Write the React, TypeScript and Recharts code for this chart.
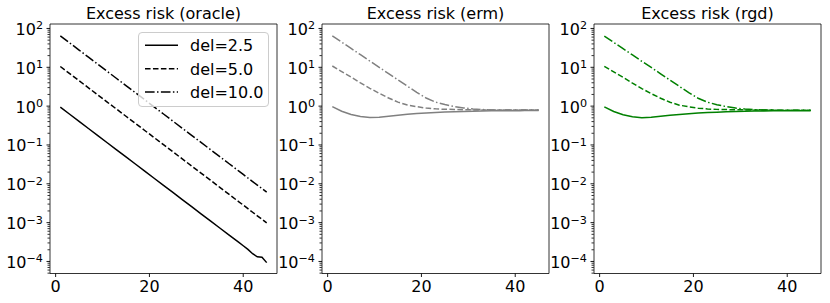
import React from 'react';
import { Legend, Line, LineChart, ReferenceArea, XAxis, YAxis } from 'recharts';

// iteration index
const steps = [1, 3, 5, 7, 9, 11, 13, 15, 17, 19, 21, 23, 25, 27, 29, 31, 33, 35, 37, 39, 40, 41, 42, 43, 44, 45];

// excess risk, oracle
const oracleDel25 = [0.94, 0.617, 0.405, 0.265, 0.174, 0.114, 0.075, 0.0492, 0.0323, 0.0212, 0.0139, 0.00912, 0.00598, 0.00393, 0.00258, 0.00169, 0.00111, 0.000728, 0.000478, 0.000313, 0.000254, 0.000205, 0.000158, 0.000132, 0.000129, 0.0000933];
const oracleDel50 = [10.5, 6.87, 4.51, 2.96, 1.94, 1.27, 0.836, 0.548, 0.36, 0.236, 0.155, 0.102, 0.0667, 0.0438, 0.0287, 0.0188, 0.0124, 0.00811, 0.00532, 0.00349, 0.00283, 0.00229, 0.00185, 0.0015, 0.00122, 0.000986];
const oracleDel100 = [64.6, 42.4, 27.8, 18.2, 12.0, 7.85, 5.15, 3.38, 2.22, 1.46, 0.955, 0.627, 0.411, 0.27, 0.177, 0.116, 0.0762, 0.05, 0.0328, 0.0215, 0.0174, 0.0141, 0.0114, 0.00927, 0.0075, 0.00608];

// excess risk, erm
const ermDel25 = [0.97, 0.74, 0.61, 0.54, 0.51, 0.52, 0.55, 0.585, 0.615, 0.645, 0.67, 0.69, 0.705, 0.72, 0.73, 0.74, 0.75, 0.755, 0.76, 0.765, 0.765, 0.765, 0.77, 0.77, 0.77, 0.77];
const ermDel50 = [10.8, 7.76, 5.6, 3.98, 2.88, 2.14, 1.62, 1.27, 1.07, 0.966, 0.89, 0.85, 0.83, 0.82, 0.81, 0.8, 0.8, 0.795, 0.79, 0.79, 0.79, 0.79, 0.79, 0.79, 0.79, 0.79];
const ermDel100 = [64.6, 44.5, 30.6, 21.1, 14.5, 10.0, 6.89, 4.74, 3.27, 2.25, 1.62, 1.27, 1.1, 0.98, 0.895, 0.845, 0.815, 0.8, 0.795, 0.79, 0.79, 0.79, 0.79, 0.79, 0.79, 0.79];

// excess risk, rgd
const rgdDel25 = [0.96, 0.73, 0.6, 0.53, 0.505, 0.515, 0.545, 0.58, 0.61, 0.64, 0.665, 0.685, 0.70, 0.715, 0.725, 0.735, 0.745, 0.75, 0.755, 0.76, 0.76, 0.765, 0.765, 0.765, 0.765, 0.765];
const rgdDel50 = [10.6, 7.6, 5.5, 3.9, 2.82, 2.1, 1.6, 1.26, 1.06, 0.96, 0.885, 0.845, 0.825, 0.815, 0.805, 0.8, 0.795, 0.79, 0.79, 0.785, 0.785, 0.785, 0.785, 0.785, 0.785, 0.785];
const rgdDel100 = [63.5, 43.8, 30.2, 20.8, 14.3, 9.9, 6.8, 4.68, 3.23, 2.22, 1.6, 1.26, 1.09, 0.97, 0.89, 0.84, 0.81, 0.795, 0.79, 0.785, 0.785, 0.785, 0.785, 0.785, 0.785, 0.785];

const titles = ['Excess risk (oracle)', 'Excess risk (erm)', 'Excess risk (rgd)'];
const legendLabels = ['del=2.5', 'del=5.0', 'del=10.0'];
const xTicks = [0, 20, 40];
const yMajorTicks = [1e-4, 1e-3, 1e-2, 1e-1, 1, 10, 100];

const FONT = 'DejaVu Sans';
const X_DOMAIN: [number, number] = [-1.2, 47.2];
const Y_DOMAIN: [number, number] = [Math.pow(10, -4.31), Math.pow(10, 2.115)];
const DASHES = [undefined, '5.55 2.4', '9.6 2.4 1.5 2.4'];

const yMinorTicks: number[] = [];
[1e-5, ...yMajorTicks].forEach((m) => {
  for (let k = 2; k <= 9; k++) {
    const v = m * k;
    if (v >= Y_DOMAIN[0] && v <= Y_DOMAIN[1]) yMinorTicks.push(v);
  }
});
const yTicks = [...yMajorTicks, ...yMinorTicks].sort((a, b) => a - b);

const buildRows = (a: number[], b: number[], c: number[]) =>
  steps.map((s, i) => ({ step: s, d25: a[i], d50: b[i], d100: c[i] }));

const panels = [
  { title: titles[0], color: '#000000', rows: buildRows(oracleDel25, oracleDel50, oracleDel100), left: 0, legend: true },
  { title: titles[1], color: '#808080', rows: buildRows(ermDel25, ermDel50, ermDel100), left: 272, legend: false },
  { title: titles[2], color: '#008000', rows: buildRows(rgdDel25, rgdDel50, rgdDel100), left: 544, legend: false },
];
const seriesKeys = ['d25', 'd50', 'd100'];

const YTick = (props: any) => {
  const { x, y, payload } = props;
  const lg = Math.log10(payload.value);
  const exp = Math.round(lg);
  if (Math.abs(lg - exp) > 1e-6) {
    // minor tick
    return <line x1={x} x2={x - 2.5} y1={y} y2={y} stroke="#333" strokeWidth={1} />;
  }
  return (
    <g>
      <line x1={x} x2={x - 3.5} y1={y} y2={y} stroke="#000" strokeWidth={0.9} />
      <text x={x - 7} y={y + 6.5} textAnchor="end" fontSize={16} fontFamily={FONT} fill="#000">
        10
        <tspan dy={-5.5} fontSize={11.2}>{exp < 0 ? '\u2212' + -exp : String(exp)}</tspan>
      </text>
    </g>
  );
};

const XTick = (props: any) => {
  const { x, y, payload } = props;
  return (
    <g>
      <line x1={x} x2={x} y1={y} y2={y + 3.5} stroke="#000" strokeWidth={0.9} />
      <text x={x} y={y + 18.5} textAnchor="middle" fontSize={16} fontFamily={FONT} fill="#000">
        {payload.value}
      </text>
    </g>
  );
};

const LegendBox = () => (
  <div
    style={{
      width: 131,
      height: 75,
      boxSizing: 'border-box',
      border: '1px solid #cccccc',
      borderRadius: 4,
      background: 'rgba(255,255,255,0.8)',
    }}
  >
    <svg width={129} height={73} style={{ display: 'block' }}>
      {legendLabels.map((label, i) => {
        const cy = 12.3 + i * 23.4;
        return (
          <g key={label}>
            <line x1={6} x2={39} y1={cy} y2={cy} stroke="#000" strokeWidth={1.5} strokeDasharray={DASHES[i]} />
            <text x={51} y={cy + 5.8} fontSize={16} fontFamily={FONT} fill="#000">
              {label}
            </text>
          </g>
        );
      })}
    </svg>
  </div>
);

const Panel = ({ panel }: { panel: (typeof panels)[number] }) => (
  <div style={{ position: 'absolute', left: panel.left, top: 0, width: 280, height: 303 }}>
    <div
      style={{
        position: 'absolute',
        left: 50,
        top: 4,
        width: 227,
        textAlign: 'center',
        fontFamily: FONT,
        fontSize: 16,
        lineHeight: 'normal',
        color: '#000',
        whiteSpace: 'nowrap',
      }}
    >
      {panel.title}
    </div>
    <LineChart width={280} height={303} data={panel.rows} margin={{ top: 24, right: 3, bottom: 0, left: 0 }}>
      <XAxis
        dataKey="step"
        type="number"
        domain={X_DOMAIN}
        allowDataOverflow
        ticks={xTicks}
        interval={0}
        tick={<XTick />}
        tickLine={false}
        axisLine={false}
        tickSize={0}
        tickMargin={0}
        height={29.5}
      />
      <YAxis
        type="number"
        scale="log"
        domain={Y_DOMAIN}
        allowDataOverflow
        ticks={yTicks}
        interval={0}
        tick={<YTick />}
        tickLine={false}
        axisLine={false}
        tickSize={0}
        tickMargin={0}
        width={50}
      />
      {seriesKeys.map((k, i) => (
        <Line
          key={k}
          type="linear"
          dataKey={k}
          stroke={panel.color}
          strokeWidth={1.5}
          strokeDasharray={DASHES[i]}
          dot={false}
          activeDot={false}
          isAnimationActive={false}
        />
      ))}
      <ReferenceArea
        x1={X_DOMAIN[0]}
        x2={X_DOMAIN[1]}
        y1={Y_DOMAIN[0]}
        y2={Y_DOMAIN[1]}
        fill="none"
        stroke="#000"
        strokeWidth={0.8}
        ifOverflow="visible"
      />
      {panel.legend && (
        <Legend
          layout="horizontal"
          verticalAlign="middle"
          align="center"
          wrapperStyle={{ left: 138, top: 32, width: 131, height: 75 }}
          content={() => <LegendBox />}
        />
      )}
    </LineChart>
  </div>
);

export default function App() {
  return (
    <div style={{ position: 'absolute', left: 0, top: 0, width: 830, height: 303, background: '#fff' }}>
      {panels.map((p) => (
        <Panel key={p.title} panel={p} />
      ))}
    </div>
  );
}
